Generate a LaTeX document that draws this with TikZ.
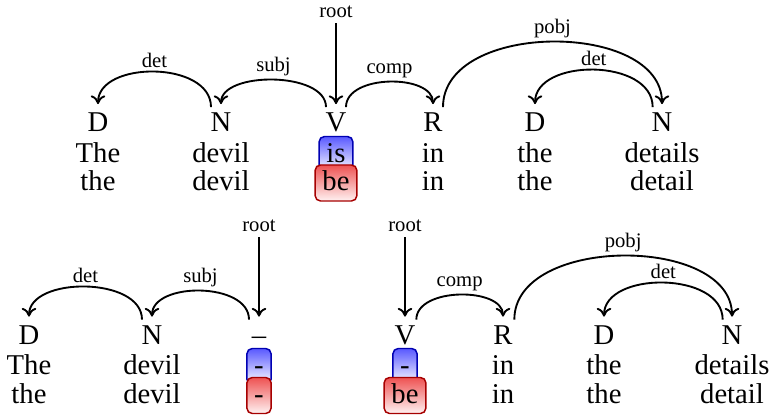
\documentclass[tikz,border=0pt]{standalone}
\usepackage{fontspec}
\setmainfont{Liberation Serif}
\usetikzlibrary{arrows.meta,calc}
\definecolor{redtop}{RGB}{238,82,82}
\begin{document}
\begin{tikzpicture}[x=0.75pt,y=-0.75pt,
  word/.style={font=\fontsize{21.5}{25}\selectfont, anchor=base, inner sep=0pt},
  tag/.style={word, text height=14pt, inner ysep=4.5pt},
  lbl/.style={font=\fontsize{15.5}{18}\selectfont, inner sep=0pt},
  arclbl/.style={lbl, above, inner sep=2pt},
  tip/.style={-{To[length=6.5pt,width=11pt]}},
  deparc/.style={line width=1.4pt, tip},
  rootarrow/.style={line width=1.4pt, tip},
  boxbase/.style={word, line width=1.1pt, rounded corners=4pt, inner xsep=5.5pt, inner ysep=2pt, text height=17.5pt, text depth=5.5pt},
  bluebox/.style={boxbase, draw=blue!70!black, top color=blue!65, bottom color=white},
  redbox/.style={boxbase, draw=red!65!black, top color=redtop, bottom color=red!5}
]
\useasboundingbox (0,0) rectangle (774,420);

% ---------- top sentence ----------
\node[tag] (t1) at (98,132) {D};
\node[tag] (t2) at (221,132) {N};
\node[tag] (t3) at (336,132) {V};
\node[tag] (t4) at (433,132) {R};
\node[tag] (t5) at (535,132) {D};
\node[tag] (t6) at (662,132) {N};

\node[word] (w1) at (98,162.5) {The};
\node[word] (w2) at (221,162.5) {devil};
\node[bluebox] (w3) at (336,162.5) {is};
\node[word] (w4) at (433,162.5) {in};
\node[word] (w5) at (535,162.5) {the};
\node[word] (w6) at (662,162.5) {details};

\node[word] (l1) at (98,191) {the};
\node[word] (l2) at (221,191) {devil};
\node[redbox] (l3) at (336,191) {be};
\node[word] (l4) at (433,191) {in};
\node[word] (l5) at (535,191) {the};
\node[word] (l6) at (662,191) {detail};

\node[lbl, anchor=base] (r1) at (336,18) {root};
\draw[rootarrow] ([yshift=-3.75pt]r1.south) -- ([yshift=2.25pt]t3.north);

\draw[deparc] ([xshift=-7.5pt]t2.north) .. controls +(0,-46.6) and +(0,-43.6) .. ([yshift=2.25pt]t1.north)
  node[midway, arclbl] (a1) {det};
\draw[deparc] ([xshift=-7.5pt]t3.north) .. controls +(0,-35.9) and +(0,-32.9) .. ([yshift=2.25pt]t2.north)
  node[midway, arclbl] (a2) {subj};
\draw[deparc] ([xshift=7.5pt]t3.north) .. controls +(0,-33.2) and +(0,-30.2) .. ([yshift=2.25pt]t4.north)
  node[midway, arclbl] (a3) {comp};
\draw[deparc] ([xshift=7.5pt]t4.north) .. controls +(0,-86.6) and +(0,-83.6) .. ([yshift=2.25pt]t6.north)
  node[midway, arclbl] (a4) {pobj};
\draw[deparc] ([xshift=-7pt]t6.north) .. controls +(0,-49.2) and +(0,-46.2) .. ([yshift=2.25pt]t5.north)
  node[midway, arclbl] (a5) {det};

% ---------- bottom sentence ----------
\node[tag] (b1) at (29,344.5) {D};
\node[tag] (b2) at (152,344.5) {N};
\node[tag] (b3) at (259,344.5) {--};
\node[tag] (b4) at (405,344.5) {V};
\node[tag] (b5) at (503,344.5) {R};
\node[tag] (b6) at (604,344.5) {D};
\node[tag] (b7) at (732,344.5) {N};

\node[word] (bw1) at (29,374.5) {The};
\node[word] (bw2) at (152,374.5) {devil};
\node[bluebox] (bw3) at (259,374.5) {-};
\node[bluebox] (bw4) at (405,374.5) {-};
\node[word] (bw5) at (503,374.5) {in};
\node[word] (bw6) at (604,374.5) {the};
\node[word] (bw7) at (732,374.5) {details};

\node[word] (bl1) at (29,403.5) {the};
\node[word] (bl2) at (152,403.5) {devil};
\node[redbox] (bl3) at (259,403.5) {-};
\node[redbox] (bl4) at (405,403.5) {be};
\node[word] (bl5) at (503,403.5) {in};
\node[word] (bl6) at (604,403.5) {the};
\node[word] (bl7) at (732,403.5) {detail};

\node[lbl, anchor=base] (r2) at (259,232) {root};
\node[lbl, anchor=base] (r3) at (405,232) {root};
\draw[rootarrow] ([yshift=-3.75pt]r2.south) -- ([yshift=2.25pt]b3.north);
\draw[rootarrow] ([yshift=-3.75pt]r3.south) -- ([yshift=2.25pt]b4.north);

\draw[deparc] ([xshift=-7.5pt]b2.north) .. controls +(0,-43.3) and +(0,-40.3) .. ([yshift=2.25pt]b1.north)
  node[midway, arclbl] (c1) {det};
\draw[deparc] ([xshift=-7.5pt]b3.north) .. controls +(0,-37.9) and +(0,-34.9) .. ([yshift=2.25pt]b2.north)
  node[midway, arclbl] (c2) {subj};
\draw[deparc] ([xshift=8.5pt]b4.north) .. controls +(0,-32.6) and +(0,-29.6) .. ([yshift=2.25pt]b5.north)
  node[midway, arclbl] (c3) {comp};
\draw[deparc] ([xshift=8.5pt]b5.north) .. controls +(0,-84.6) and +(0,-81.6) .. ([yshift=2.25pt]b7.north)
  node[midway, arclbl] (c4) {pobj};
\draw[deparc] ([xshift=-7pt]b7.north) .. controls +(0,-48.6) and +(0,-45.6) .. ([yshift=2.25pt]b6.north)
  node[midway, arclbl] (c5) {det};
\end{tikzpicture}
\end{document}
